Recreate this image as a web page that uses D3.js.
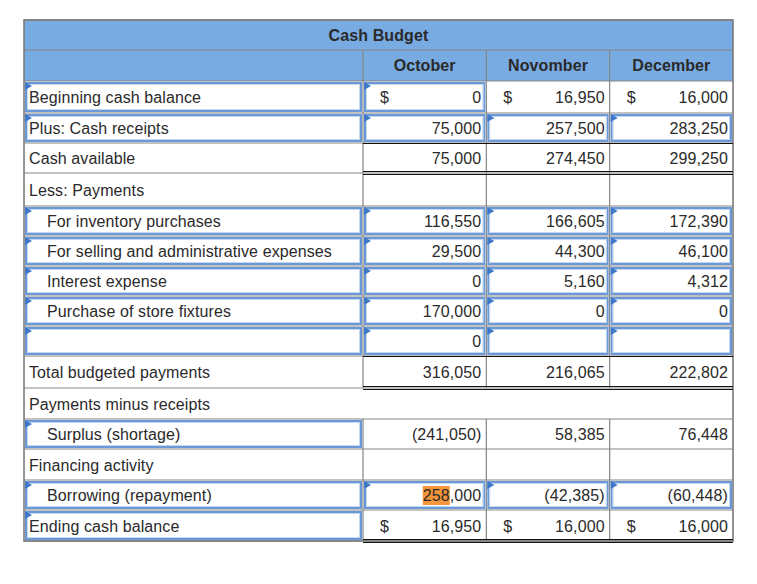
<!DOCTYPE html>
<html><head><meta charset="utf-8">
<script src="https://cdn.jsdelivr.net/npm/d3@7"></script>
<style>body{margin:0;background:#fff}svg{display:block}text{font-family:Arial,"Liberation Sans",sans-serif;font-size:16px;fill:#2a2a2a;letter-spacing:0.1px}</style>
</head><body>
<svg id="chart" width="757" height="584"></svg>
<script>
const title = "Cash Budget";
const months = ["October", "Novomber", "December"];
const labels = ["Beginning cash balance","Plus: Cash receipts","Cash available","Less: Payments","For inventory purchases","For selling and administrative expenses","Interest expense","Purchase of store fixtures","","Total budgeted payments","Payments minus receipts","Surplus (shortage)","Financing activity","Borrowing (repayment)","Ending cash balance"];
const indent = [0,0,0,0,1,1,1,1,1,0,0,1,0,1,0];
const octValues = [0, 75000, 75000, null, 116550, 29500, 0, 170000, 0, 316050, null, -241050, null, 258000, 16950];
const novValues = [16950, 257500, 274450, null, 166605, 44300, 5160, 0, null, 216065, null, 58385, null, -42385, 16000];
const decValues = [16000, 283250, 299250, null, 172390, 46100, 4312, 0, null, 222802, null, 76448, null, -60448, 16000];
const dollarRows = [0, 14];
const labelInputRows = [0,1,4,5,6,7,8,11,13,14];
const valueInput = [[1,0,0],[1,1,1],[0,0,0],[0,0,0],[1,1,1],[1,1,1],[1,1,1],[1,1,1],[1,1,1],[0,0,0],[0,0,0],[0,0,0],[0,0,0],[1,1,1],[0,0,0]];
const totalRows = [2, 9];      // single top, double bottom
const endRows = [14];          // double bottom
const spanRows = [10];         // row spans full width

const svg = d3.select("#chart");
const L = 24, LR = 363, R = 733;
const x = d3.scaleBand().domain(months).range([LR, R]);
// row edge scale (layout): row index -> top edge
const rowEdges = [81,113,143,173,206,236,266,296,326,356,388,419,449,480,510,541];
const yEdge = d3.scaleLinear().domain(d3.range(rowEdges.length)).range(rowEdges);
const y = i => yEdge(i);
const h = i => yEdge(i + 1) - yEdge(i);
const headBg = "#79abe3", grid = "#858585";
const fmt = v => v == null ? "" : (v < 0 ? "(" + d3.format(",")(-v) + ")" : d3.format(",")(v));
const vals = [octValues, novValues, decValues];

svg.append("rect").attr("x", L).attr("y", 20).attr("width", R - L).attr("height", 61).attr("fill", headBg);
svg.append("rect").attr("x", L).attr("y", 81).attr("width", R - L).attr("height", 460).attr("fill", "#fff");

const hLines = [20, 50, 81].concat(d3.range(labels.length).map(i => y(i) + h(i)));
svg.selectAll("line.h").data(hLines).join("line")
  .attr("x1", L).attr("x2", R).attr("y1", d => d).attr("y2", d => d)
  .attr("stroke", grid).attr("stroke-width", 1.2);
const vx = [LR, x(months[1]), x(months[2])];
svg.selectAll("line.hv").data(vx).join("line")
  .attr("x1", d => d).attr("x2", d => d).attr("y1", 50).attr("y2", 81)
  .attr("stroke", grid).attr("stroke-width", 1.2);
d3.range(labels.length).filter(i => !spanRows.includes(i)).forEach(i => {
  vx.forEach(xx => svg.append("line").attr("x1", xx).attr("x2", xx)
    .attr("y1", y(i)).attr("y2", y(i) + h(i)).attr("stroke", grid).attr("stroke-width", 1.2));
});
svg.append("rect").attr("x", L).attr("y", 20).attr("width", R - L).attr("height", 521)
  .attr("fill", "none").attr("stroke", "#7a7a7a").attr("stroke-width", 1.6);

function inputBox(x0, y0, w, hh) {
  svg.append("rect").attr("x", x0 + 2).attr("y", y0 + 2).attr("width", w - 4).attr("height", hh - 4)
    .attr("fill", "#fff").attr("stroke", "#6b98d6").attr("stroke-width", 2);
  svg.append("rect").attr("x", x0 + 3.5).attr("y", y0 + 3.5).attr("width", w - 7).attr("height", hh - 7)
    .attr("fill", "none").attr("stroke", "#c4d7f1").attr("stroke-width", 1);
  svg.append("path").attr("d", `M${x0+1},${y0+1}L${x0+8},${y0+5}L${x0+1},${y0+9}Z`).attr("fill", "#3d78c9");
}
labelInputRows.forEach(i => inputBox(L, y(i), LR - L, h(i)));
valueInput.forEach((r, i) => r.forEach((f, j) => { if (f) inputBox(x(months[j]), y(i), x.bandwidth(), h(i)); }));

totalRows.forEach(i => {
  svg.append("line").attr("x1", LR).attr("x2", R).attr("y1", y(i) + 0.5).attr("y2", y(i) + 0.5).attr("stroke", "#111").attr("stroke-width", 1.2);
});
totalRows.concat(endRows).forEach(i => {
  const b = y(i) + h(i);
  [b - 1.5, b + 1.5].forEach(yy => svg.append("line").attr("x1", LR).attr("x2", R).attr("y1", yy).attr("y2", yy).attr("stroke", "#111").attr("stroke-width", 1.2));
});

svg.append("text").attr("x", (L + R) / 2).attr("y", 41).attr("text-anchor", "middle").attr("font-weight", "bold").text(title);
svg.selectAll("text.m").data(months).join("text").attr("class", "m")
  .attr("x", d => x(d) + x.bandwidth() / 2).attr("y", 71).attr("text-anchor", "middle").attr("font-weight", "bold").text(d => d);

svg.selectAll("text.lab").data(labels).join("text").attr("class", "lab")
  .attr("x", (d, i) => L + (indent[i] ? 23 : 5)).attr("y", (d, i) => y(i) + h(i) / 2 + 6).text(d => d);

months.forEach((m, j) => {
  vals[j].forEach((v, i) => {
    if (v == null) return;
    const cy = y(i) + h(i) / 2 + 6;
    if (dollarRows.includes(i)) svg.append("text").attr("x", x(m) + 17).attr("y", cy).text("$");
    const t = svg.append("text").attr("x", x(m) + x.bandwidth() - 5).attr("y", cy).attr("text-anchor", "end").text(fmt(v));
    if (i === 13 && j === 0) {
      const node = t.node();
      const total = node.getComputedTextLength();
      const sub = node.getSubStringLength(0, 3);
      const sx = x(m) + x.bandwidth() - 5 - total;
      svg.insert("rect", () => node).attr("x", sx).attr("y", cy - 15).attr("width", sub).attr("height", 19).attr("fill", "#f7953b");
    }
  });
});
</script>
</body></html>
